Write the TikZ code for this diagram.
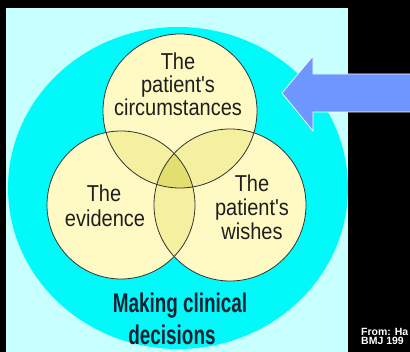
\documentclass[tikz,border=0pt]{standalone}
\usepackage{fontspec}
\setmainfont{Liberation Sans}[FakeStretch=0.87,Ligatures=TeXOff]
\newfontfamily\condbold{Liberation Sans}[FakeStretch=0.7]
\newfontfamily\plainsans{Liberation Sans}
\definecolor{bgcyan}{RGB}{200,255,255}
\definecolor{bigcyan}{RGB}{0,250,250}
\definecolor{circfill}{RGB}{255,250,196}
\definecolor{pairfill}{RGB}{244,240,160}
\definecolor{triplefill}{RGB}{226,222,112}
\definecolor{arrowblue}{RGB}{110,150,255}
\definecolor{textdark}{RGB}{30,30,30}
\definecolor{bolddark}{RGB}{12,34,50}
\tikzset{
  lbl/.style={font=\fontsize{23}{23}\selectfont, text=textdark, anchor=base, inner sep=0pt},
  boldlbl/.style={font=\condbold\bfseries\fontsize{27}{27}\selectfont, text=bolddark, anchor=base, inner sep=0pt},
  srclbl/.style={font=\plainsans\bfseries\fontsize{10.5}{10.5}\selectfont, text=white, anchor=base west, inner sep=0pt},
  venn/.style={draw=black!80, line width=0.8pt}
}
\begin{document}
\begin{tikzpicture}[x=1pt,y=-1pt]
\useasboundingbox (0,0) rectangle (410,352);
\fill[black] (0,0) rectangle (410,352);
\fill[bgcyan] (6,8) rectangle (348,352);
\begin{scope}
  \clip (6,8) rectangle (348,352);
  \fill[bigcyan] (178,188) ellipse[x radius=170pt, y radius=161pt];
\end{scope}
% circles
\coordinate (ctop) at (180,111);
\coordinate (cleft) at (121,205);
\coordinate (cright) at (230,205);
\fill[circfill] (ctop) circle[radius=77pt];
\fill[circfill] (cleft) circle[radius=74pt];
\fill[circfill] (cright) circle[radius=76pt];
\begin{scope}
  \clip (ctop) circle[radius=77pt];
  \fill[pairfill] (cleft) circle[radius=74pt];
  \fill[pairfill] (cright) circle[radius=76pt];
\end{scope}
\begin{scope}
  \clip (cleft) circle[radius=74pt];
  \fill[pairfill] (cright) circle[radius=76pt];
\end{scope}
\begin{scope}
  \clip (ctop) circle[radius=77pt];
  \clip (cleft) circle[radius=74pt];
  \fill[triplefill] (cright) circle[radius=76pt];
\end{scope}
\draw[venn] (ctop) circle[radius=77pt];
\draw[venn] (cleft) circle[radius=74pt];
\draw[venn] (cright) circle[radius=76pt];
% labels
\node[lbl] (t1) at (178,69.5) {The};
\node[lbl] (t2) at (178,93) {patient's};
\node[lbl] (t3) at (178,116) {circumstances};
\node[lbl] (l1) at (104,202) {The};
\node[lbl] (l2) at (105,226.5) {evidence};
\node[lbl] (r1) at (252,192) {The};
\node[lbl] (r2) at (252,216) {patient's};
\node[lbl] (r3) at (252,240) {wishes};
\node[boldlbl] (b1) at (180,313) {Making clinical};
\node[boldlbl] (b2) at (172,345) {decisions};
% arrow
\draw[fill=arrowblue, draw=white, line width=0.7pt]
  (282,93) -- (313,56) -- (313,74) -- (415,74) -- (415,112) -- (313,112) -- (313,131) -- cycle;
% source
\node[srclbl] (s1) at (361,336) {From: Ha};
\node[srclbl] (s2) at (361,345) {BMJ 199};
\end{tikzpicture}
\end{document}
